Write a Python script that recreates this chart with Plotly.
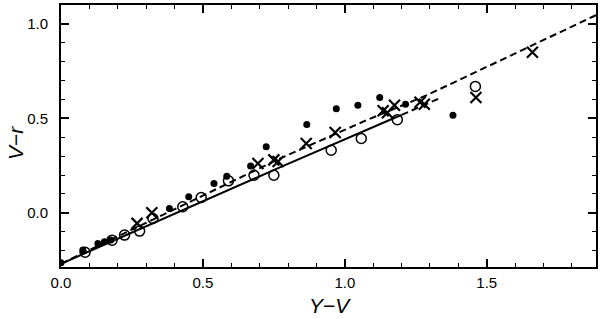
import plotly.graph_objects as go

# Filled circles
filled_x = [0.0, 0.077, 0.13, 0.153, 0.175, 0.382, 0.45, 0.539, 0.584, 0.668, 0.723, 0.866, 0.97, 1.046, 1.123, 1.214, 1.381]
filled_y = [-0.265, -0.197, -0.162, -0.153, -0.144, 0.023, 0.085, 0.155, 0.194, 0.248, 0.349, 0.467, 0.551, 0.569, 0.61, 0.574, 0.516]

# Open circles
open_x = [0.085, 0.18, 0.224, 0.277, 0.324, 0.429, 0.494, 0.59, 0.68, 0.75, 0.952, 1.058, 1.185, 1.46]
open_y = [-0.209, -0.145, -0.118, -0.097, -0.03, 0.032, 0.081, 0.169, 0.199, 0.199, 0.331, 0.393, 0.493, 0.669]

# Crosses
cross_x = [0.268, 0.32, 0.694, 0.75, 0.765, 0.864, 0.966, 1.135, 1.15, 1.175, 1.265, 1.28, 1.462, 1.661]
cross_y = [-0.056, 0.0, 0.261, 0.28, 0.272, 0.367, 0.425, 0.54, 0.53, 0.569, 0.585, 0.575, 0.61, 0.85]

# Model curves
solid_x = [0.0, 0.771, 1.17, 1.2]
solid_y = [-0.27, 0.24, 0.499, 0.518]
solid_ext_x = [1.2, 1.33]
solid_ext_y = [0.518, 0.604]
dashed_x = [0.0, 0.771, 1.076, 1.287, 1.875, 1.885]
dashed_y = [-0.27, 0.287, 0.49, 0.621, 1.039, 1.046]

x_ticks = [0.0, 0.5, 1.0, 1.5]
y_ticks = [0.0, 0.5, 1.0]

fig = go.Figure()
fig.add_trace(go.Scatter(x=solid_x, y=solid_y, mode="lines",
                         line=dict(color="black", width=2), showlegend=False))
fig.add_trace(go.Scatter(x=solid_ext_x, y=solid_ext_y, mode="lines",
                         line=dict(color="black", width=2, dash="7px,4px"), showlegend=False))
fig.add_trace(go.Scatter(x=dashed_x, y=dashed_y, mode="lines",
                         line=dict(color="black", width=2, dash="7px,4px"), showlegend=False))
fig.add_trace(go.Scatter(x=open_x, y=open_y, mode="markers",
                         marker=dict(symbol="circle-open", size=10, color="black", line=dict(width=1.5)),
                         showlegend=False))
fig.add_trace(go.Scatter(x=filled_x, y=filled_y, mode="markers",
                         marker=dict(symbol="circle", size=7, color="black"), showlegend=False))
fig.add_trace(go.Scatter(x=cross_x, y=cross_y, mode="markers",
                         marker=dict(symbol="x-thin-open", size=11, color="black", line=dict(width=2.2, color="black")),
                         showlegend=False))

axis_common = dict(
    showgrid=False, zeroline=False, showline=True, linecolor="black", linewidth=2,
    mirror="ticks", ticks="inside", ticklen=8, tickwidth=1.5, tickcolor="black",
    tickformat=".1f", tickfont=dict(family="Liberation Sans", size=15, color="black"),
    minor=dict(ticks="inside", ticklen=4, tickwidth=1, tickcolor="black", dtick=0.1, showgrid=False),
    automargin=False,
)

fig.update_xaxes(range=[0, 1.885], tickvals=x_ticks, ticklabelstandoff=1, **axis_common)
fig.update_yaxes(range=[-0.287, 1.10], tickvals=y_ticks, ticklabelstandoff=8, **axis_common)

title_font = dict(family="Liberation Sans", size=21, color="black")
fig.add_annotation(text="<i>Y</i>−<i>V</i>", xref="paper", yref="paper", x=0.503, y=0,
                   xanchor="center", yanchor="middle", yshift=-38, showarrow=False, font=title_font)
fig.add_annotation(text="<i>V</i>−<i>r</i>", xref="paper", yref="paper", x=0, y=0.473,
                   xanchor="center", yanchor="middle", xshift=-46, textangle=-90,
                   showarrow=False, font=title_font)

fig.update_layout(width=600, height=319, margin=dict(l=61, r=4, t=5, b=52),
                  paper_bgcolor="white", plot_bgcolor="white")
fig.write_html("out.html", config={"displayModeBar": False},
               post_script="document.body.style.margin='0';document.body.style.overflow='hidden';")
